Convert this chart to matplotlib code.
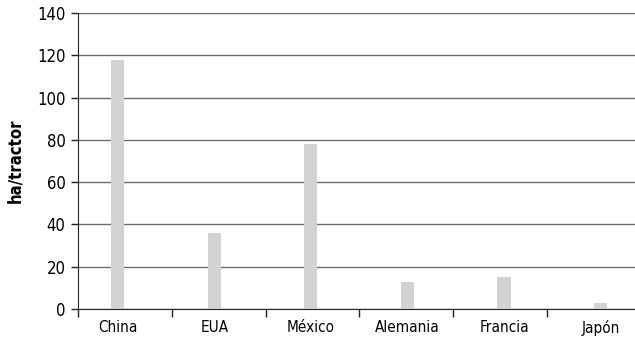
import matplotlib
matplotlib.use("Agg")
import matplotlib.pyplot as plt
import numpy as np

# data
countries = ["China", "EUA", "México", "Alemania", "Francia", "Japón"]
ha_per_tractor = [118, 36, 78, 13, 15, 3]
y_ticks = [0, 20, 40, 60, 80, 100, 120, 140]

plt.rcParams['font.family'] = ['DejaVu Sans']
plt.rcParams['font.stretch'] = 'condensed'

fig = plt.figure(figsize=(6.35, 3.42), dpi=100)
ax = fig.add_axes([0.1228, 0.0965, 0.8772, 0.8655])

x = np.arange(len(countries))
ax.bar(x, ha_per_tractor, width=0.135, color='#d1d2d4', zorder=3)

ax.set_ylim(0, 140)
ax.set_yticks(y_ticks)
ax.yaxis.grid(True, color='#6d6d6d', linewidth=1.0, zorder=1)
ax.set_axisbelow(True)

# category separators on the x axis
sep = np.arange(len(countries)) * 0.971 - 0.41
ax.set_xlim(-0.41, 5.356)
ax.set_xticks(sep)
ax.set_xticklabels([])
ax.set_xticks(x, minor=True)
ax.set_xticklabels(countries, minor=True)
ax.tick_params(axis='x', which='major', length=6, width=1, direction='out', color='#222222')
ax.tick_params(axis='x', which='minor', length=0, pad=8, labelsize=11)
ax.tick_params(axis='y', length=5, width=1, color='#222222', labelsize=12, pad=4)

for s in ['top', 'right']:
    ax.spines[s].set_visible(False)
ax.spines['left'].set_color('#222222')
ax.spines['bottom'].set_color('#222222')

ax.set_ylabel('ha/tractor', fontsize=12, fontweight='bold', labelpad=9)

fig.savefig('out.png', dpi=100)
